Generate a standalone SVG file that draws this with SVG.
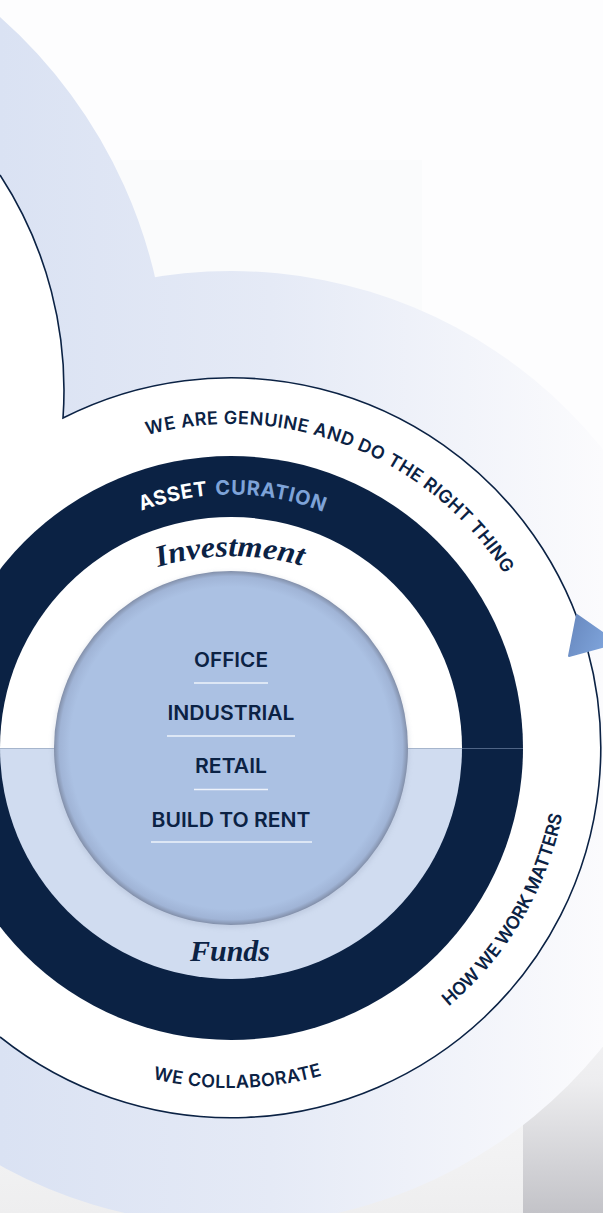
<svg xmlns="http://www.w3.org/2000/svg" width="603" height="1213" viewBox="0 0 603 1213">
<defs>
<style>
.sans{font-family:Inter,"Liberation Sans","DejaVu Sans",sans-serif;font-weight:600;fill:#0b2244}
.ring-label{font-size:18px}
.asset{font-size:20px;font-weight:700}
.serif{font-family:"Liberation Serif","DejaVu Serif",serif;font-style:italic;font-weight:700;fill:#0b2244;font-size:30px}
.sector{font-size:20px;text-anchor:middle}
.rule{stroke:#eef3fb;stroke-width:1.5}
.outline{fill:none;stroke:#0b2244;stroke-width:1.6;stroke-linejoin:miter}
</style>
<linearGradient id="bandGrad" gradientUnits="userSpaceOnUse" x1="0" y1="0" x2="603" y2="0">
<stop offset="0" stop-color="#dae2f3"/>
<stop offset="0.45" stop-color="#e5eaf6"/>
<stop offset="1" stop-color="#fbfbfd"/>
</linearGradient>
<linearGradient id="bottomGrey" x1="0" y1="0" x2="0" y2="1">
<stop offset="0" stop-color="#f2f2f3" stop-opacity="0"/>
<stop offset="1" stop-color="#eeeeef"/>
</linearGradient>
<linearGradient id="panelGrey" x1="0" y1="0" x2="0" y2="1">
<stop offset="0" stop-color="#fbfbfc"/>
<stop offset="0.5" stop-color="#ededef"/>
<stop offset="1" stop-color="#c3c3c8"/>
</linearGradient>
<radialGradient id="coreGrad" cx="231" cy="748" r="177" gradientUnits="userSpaceOnUse">
<stop offset="0" stop-color="#abc1e3"/>
<stop offset="0.91" stop-color="#abc1e3"/>
<stop offset="0.97" stop-color="#a0b4d6"/>
<stop offset="1" stop-color="#828fa9"/>
</radialGradient>
<linearGradient id="arrowGrad" x1="0" y1="0" x2="1" y2="0.4">
<stop offset="0" stop-color="#6787bd"/>
<stop offset="1" stop-color="#80a6dd"/>
</linearGradient>
<filter id="soft" x="-20%" y="-20%" width="140%" height="140%">
<feGaussianBlur stdDeviation="2.5"/>
</filter>
<path id="pTop" d="M147.1,435 A324,324 0 0 1 504.3,573.9"/>
<path id="pAsset" d="M141.4,510.9 A253.5,253.5 0 0 1 323.1,511.8"/>
<path id="pInv" d="M158,567 A260,260 0 0 1 306,567"/>
<path id="pBottom" d="M152.8,1078.9 A340,340 0 0 0 321.9,1075.6"/>
<path id="pRight" d="M448.7,1006.5 A338,338 0 0 0 562.4,814.2"/>
</defs>

<g id="background">
<rect x="0" y="0" width="603" height="1213" fill="#fdfdfe"/>
<rect x="0" y="160" width="422" height="1053" fill="#fafbfc"/>
<rect x="0" y="950" width="603" height="263" fill="url(#bottomGrey)"/>
<rect x="523" y="950" width="80" height="263" fill="url(#panelGrey)"/>
</g>

<g id="swoosh">
<circle cx="231" cy="748" r="477" fill="url(#bandGrad)"/>
<path d="M0,17 A498,498 0 0 1 168,390 L63,418 A394,394 0 0 0 0,175 Z" fill="url(#bandGrad)"/>
</g>

<g id="outer-ring">
<path d="M0,175 A394,394 0 0 1 63,418 A370,370 0 1 1 0,1037 Z" fill="#ffffff"/>
<text class="sans ring-label"><textPath href="#pTop" textLength="241" lengthAdjust="spacing">WE ARE GENUINE AND DO</textPath></text>
<text class="sans ring-label"><textPath href="#pTop" startOffset="247" textLength="163" lengthAdjust="spacing">THE RIGHT THING</textPath></text>
<text class="sans ring-label"><textPath href="#pRight" textLength="227" lengthAdjust="spacing">HOW WE WORK MATTERS</textPath></text>
<text class="sans ring-label"><textPath href="#pBottom" textLength="171" lengthAdjust="spacing">WE COLLABORATE</textPath></text>
</g>

<g id="asset-curation">
<circle cx="231" cy="748" r="292" fill="#0b2244"/>
<text class="sans asset" fill="#ffffff" style="fill:#ffffff"><textPath href="#pAsset" textLength="68" lengthAdjust="spacing">ASSET</textPath></text>
<text class="sans asset" style="fill:#7ea3d8"><textPath href="#pAsset" startOffset="76" textLength="110" lengthAdjust="spacing">CURATION</textPath></text>
</g>

<g id="investment">
<path d="M0,748 L462,748 A231,231 0 0 0 0,748 Z" fill="#ffffff"/>
<path d="M0,748 L462,748 A231,231 0 0 1 0,748 Z" fill="#d0dcf0"/>
<text class="serif"><textPath href="#pInv" textLength="146" lengthAdjust="spacingAndGlyphs">Investment</textPath></text>
</g>

<g id="funds">
<text class="serif" x="230" y="961" text-anchor="middle" textLength="80" lengthAdjust="spacingAndGlyphs">Funds</text>
</g>

<g id="divider">
<line x1="0" y1="748.5" x2="462" y2="748.5" stroke="#a6b5cc" stroke-width="1"/>
<line x1="462" y1="748.5" x2="523" y2="748.5" stroke="#4f6485" stroke-width="1"/>
</g>

<g id="core">
<circle cx="231" cy="750" r="178" fill="#8d9ab4" opacity="0.25" filter="url(#soft)"/>
<circle cx="231" cy="748" r="177" fill="url(#coreGrad)"/>
</g>

<g id="sectors">
<g id="office">
<text class="sans sector" x="231" y="667" textLength="74" lengthAdjust="spacingAndGlyphs">OFFICE</text>
<line class="rule" x1="194" y1="683" x2="268" y2="683"/>
</g>
<g id="industrial">
<text class="sans sector" x="231" y="720" textLength="127" lengthAdjust="spacingAndGlyphs">INDUSTRIAL</text>
<line class="rule" x1="167" y1="736" x2="295" y2="736"/>
</g>
<g id="retail">
<text class="sans sector" x="231" y="773" textLength="72" lengthAdjust="spacingAndGlyphs">RETAIL</text>
<line class="rule" x1="194" y1="789.5" x2="268" y2="789.5"/>
</g>
<g id="build-to-rent">
<text class="sans sector" x="231" y="826.5" textLength="159" lengthAdjust="spacingAndGlyphs">BUILD TO RENT</text>
<line class="rule" x1="151" y1="842" x2="312" y2="842"/>
</g>
</g>

<g id="connectors">
<path class="outline" d="M0,175 A394,394 0 0 1 63,418 A370,370 0 1 1 0,1037"/>
<polygon points="577,615 569,656 617,643" fill="url(#arrowGrad)" stroke="url(#arrowGrad)" stroke-width="2" stroke-linejoin="round"/>
</g>
</svg>
